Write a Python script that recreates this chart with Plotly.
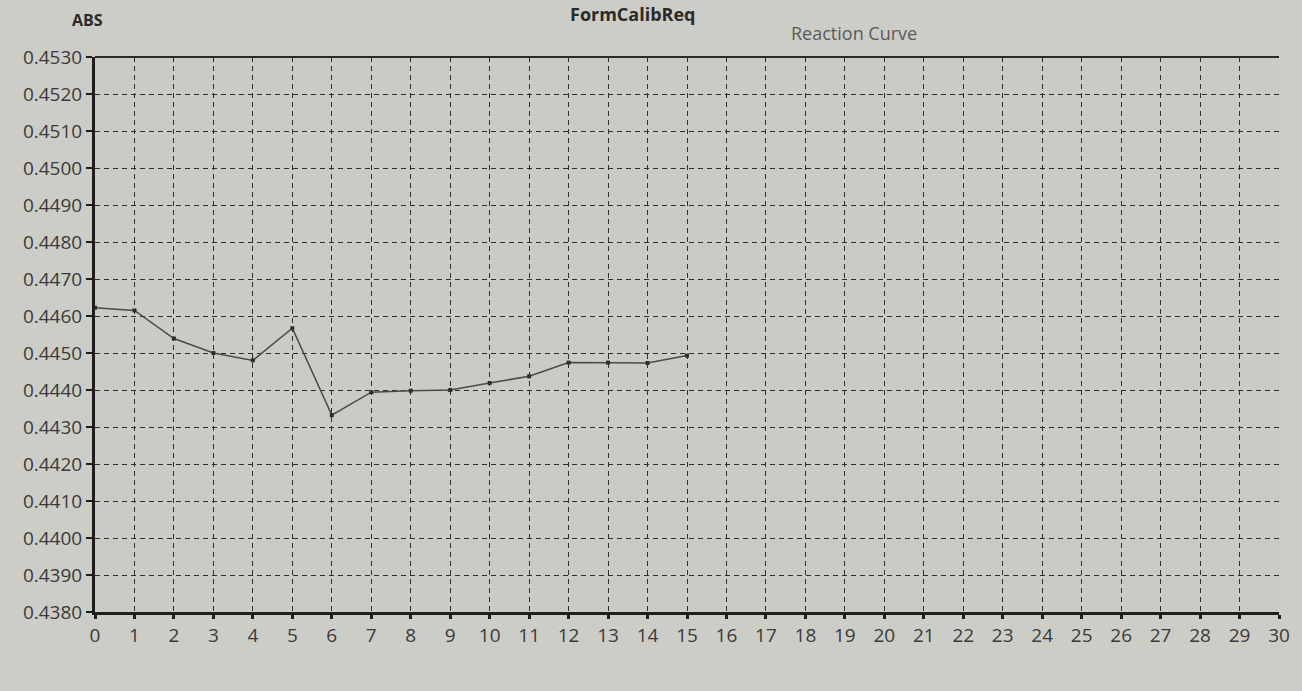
import plotly.graph_objects as go

# Reaction curve readings (time index vs absorbance)
x_vals = [0, 1, 2, 3, 4, 5, 6, 7, 8, 9, 10, 11, 12, 13, 14, 15]
abs_vals = [0.44622, 0.44615, 0.44539, 0.44500, 0.44480, 0.44567, 0.44332, 0.44394,
            0.44398, 0.44400, 0.44419, 0.44437, 0.44474, 0.44474, 0.44473, 0.44493]

x_ticks = list(range(0, 31))
y_ticks = [round(0.438 + i * 0.001, 4) for i in range(16)]
y_labels = [f"{v:.4f}" for v in y_ticks]

fig = go.Figure()
fig.add_trace(go.Scatter(
    x=x_vals, y=abs_vals, mode="lines+markers",
    line=dict(color="#4a4a48", width=1.5),
    marker=dict(symbol="square", size=4, color="#2e2e2c"),
    showlegend=False, hoverinfo="x+y",
))

grid_style = dict(showgrid=True, gridcolor="#2e2e2c", gridwidth=1, griddash="5px,4px")
tick_font = dict(family="Open Sans", size=19, color="#3a3a38")

fig.update_xaxes(
    range=[0, 30], tickvals=x_ticks, ticktext=[str(v) for v in x_ticks],
    showline=True, linecolor="#1e1e1c", linewidth=3,
    ticks="outside", ticklen=4, tickwidth=3, tickcolor="#1e1e1c",
    tickfont=tick_font, zeroline=False, **grid_style,
)
fig.update_yaxes(
    range=[0.438, 0.453], tickvals=y_ticks, ticktext=y_labels,
    showline=True, linecolor="#1e1e1c", linewidth=3,
    ticks="outside", ticklen=6, tickwidth=2, tickcolor="#1e1e1c",
    tickfont=tick_font, zeroline=False, **grid_style,
)

# top border of the plot frame
fig.add_shape(type="line", xref="paper", yref="paper", x0=0, x1=1, y0=1, y1=1,
              line=dict(color="#2a2a28", width=2))

fig.add_annotation(text="<b>ABS</b>", xref="paper", yref="paper", x=-0.021, y=1.067,
                   xanchor="left", yanchor="middle", showarrow=False,
                   font=dict(family="Open Sans", size=16, color="#2a2a28"))
fig.add_annotation(text="Reaction Curve", xref="paper", yref="paper", x=0.641, y=1.043,
                   xanchor="center", yanchor="middle", showarrow=False,
                   font=dict(family="Open Sans", size=18, color="#5a5a58"))
fig.add_annotation(text="<b>FormCalibReq</b>", xref="paper", yref="paper", x=0.454, y=1.103,
                   xanchor="center", yanchor="top", showarrow=False,
                   font=dict(family="Open Sans", size=18, color="#2a2a28"))

fig.update_layout(
    width=1302, height=691,
    margin=dict(l=95, r=17, t=57, b=79),
    paper_bgcolor="#cdcdc8", plot_bgcolor="#cbcbc6",
    font=dict(family="Open Sans"),
)

fig.write_html("out.html", config={"displayModeBar": False},
               post_script="document.body.style.margin='0';")
